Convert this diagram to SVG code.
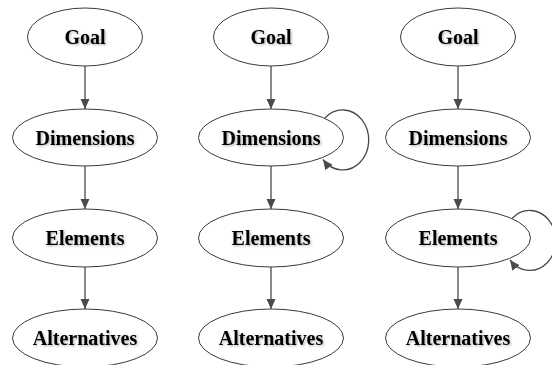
<svg xmlns="http://www.w3.org/2000/svg" width="552" height="365" viewBox="0 0 552 365">
<style>
.node ellipse{fill:#fff;stroke:#3a3a3a;stroke-width:1}
.node text{font-family:'Liberation Serif','Times New Roman','DejaVu Serif',serif;font-weight:700;font-size:20px;fill:#000;text-anchor:middle;filter:url(#shadow)}
.edge{fill:none;stroke:#4a4a4a;stroke-width:1.3;marker-end:url(#arrow)}
</style>
<defs>
<marker id="arrow" markerUnits="userSpaceOnUse" markerWidth="10" markerHeight="10" refX="10" refY="4.5" orient="auto" viewBox="0 0 10 9">
<path d="M0,0 L10,4.5 L0,9 z" fill="#4a4a4a"/>
</marker>
<filter id="shadow" x="-10%" y="-20%" width="130%" height="150%">
<feDropShadow dx="1.2" dy="1.2" stdDeviation="0.8" flood-color="#000" flood-opacity="0.3"/>
</filter>
</defs>
<rect width="552" height="365" fill="#fff"/>
<g id="connectors">
<path class="edge" d="M85,66 L85,109"/>
<path class="edge" d="M85,166 L85,209"/>
<path class="edge" d="M85,267 L85,309"/>
<path class="edge" d="M271,66 L271,109"/>
<path class="edge" d="M271,166 L271,209"/>
<path class="edge" d="M271,267 L271,309"/>
<path class="edge" d="M458,66 L458,109"/>
<path class="edge" d="M458,166 L458,209"/>
<path class="edge" d="M458,267 L458,309"/>
<path class="edge" d="M325,118 A26,30 0 1 1 323,159.5"/>
<path class="edge" d="M512,218.5 A26,30 0 1 1 510,260"/>
</g>
<g id="goal1" class="node"><ellipse cx="85" cy="37" rx="57.5" ry="29"/><text x="85" y="44" font-family="Liberation Serif, serif">Goal</text></g>
<g id="dimensions1" class="node"><ellipse cx="85" cy="137.5" rx="72.5" ry="28.5"/><text x="85" y="144.5" font-family="Liberation Serif, serif">Dimensions</text></g>
<g id="elements1" class="node"><ellipse cx="85" cy="238" rx="72.5" ry="29"/><text x="85" y="245" font-family="Liberation Serif, serif">Elements</text></g>
<g id="alternatives1" class="node"><ellipse cx="85" cy="338" rx="72.5" ry="29"/><text x="85" y="345" font-family="Liberation Serif, serif">Alternatives</text></g>
<g id="goal2" class="node"><ellipse cx="271" cy="37" rx="57.5" ry="29"/><text x="271" y="44" font-family="Liberation Serif, serif">Goal</text></g>
<g id="dimensions2" class="node"><ellipse cx="271" cy="137.5" rx="72.5" ry="28.5"/><text x="271" y="144.5" font-family="Liberation Serif, serif">Dimensions</text></g>
<g id="elements2" class="node"><ellipse cx="271" cy="238" rx="72.5" ry="29"/><text x="271" y="245" font-family="Liberation Serif, serif">Elements</text></g>
<g id="alternatives2" class="node"><ellipse cx="271" cy="338" rx="72.5" ry="29"/><text x="271" y="345" font-family="Liberation Serif, serif">Alternatives</text></g>
<g id="goal3" class="node"><ellipse cx="458" cy="37" rx="57.5" ry="29"/><text x="458" y="44" font-family="Liberation Serif, serif">Goal</text></g>
<g id="dimensions3" class="node"><ellipse cx="458" cy="137.5" rx="72.5" ry="28.5"/><text x="458" y="144.5" font-family="Liberation Serif, serif">Dimensions</text></g>
<g id="elements3" class="node"><ellipse cx="458" cy="238" rx="72.5" ry="29"/><text x="458" y="245" font-family="Liberation Serif, serif">Elements</text></g>
<g id="alternatives3" class="node"><ellipse cx="458" cy="338" rx="72.5" ry="29"/><text x="458" y="345" font-family="Liberation Serif, serif">Alternatives</text></g>
</svg>
